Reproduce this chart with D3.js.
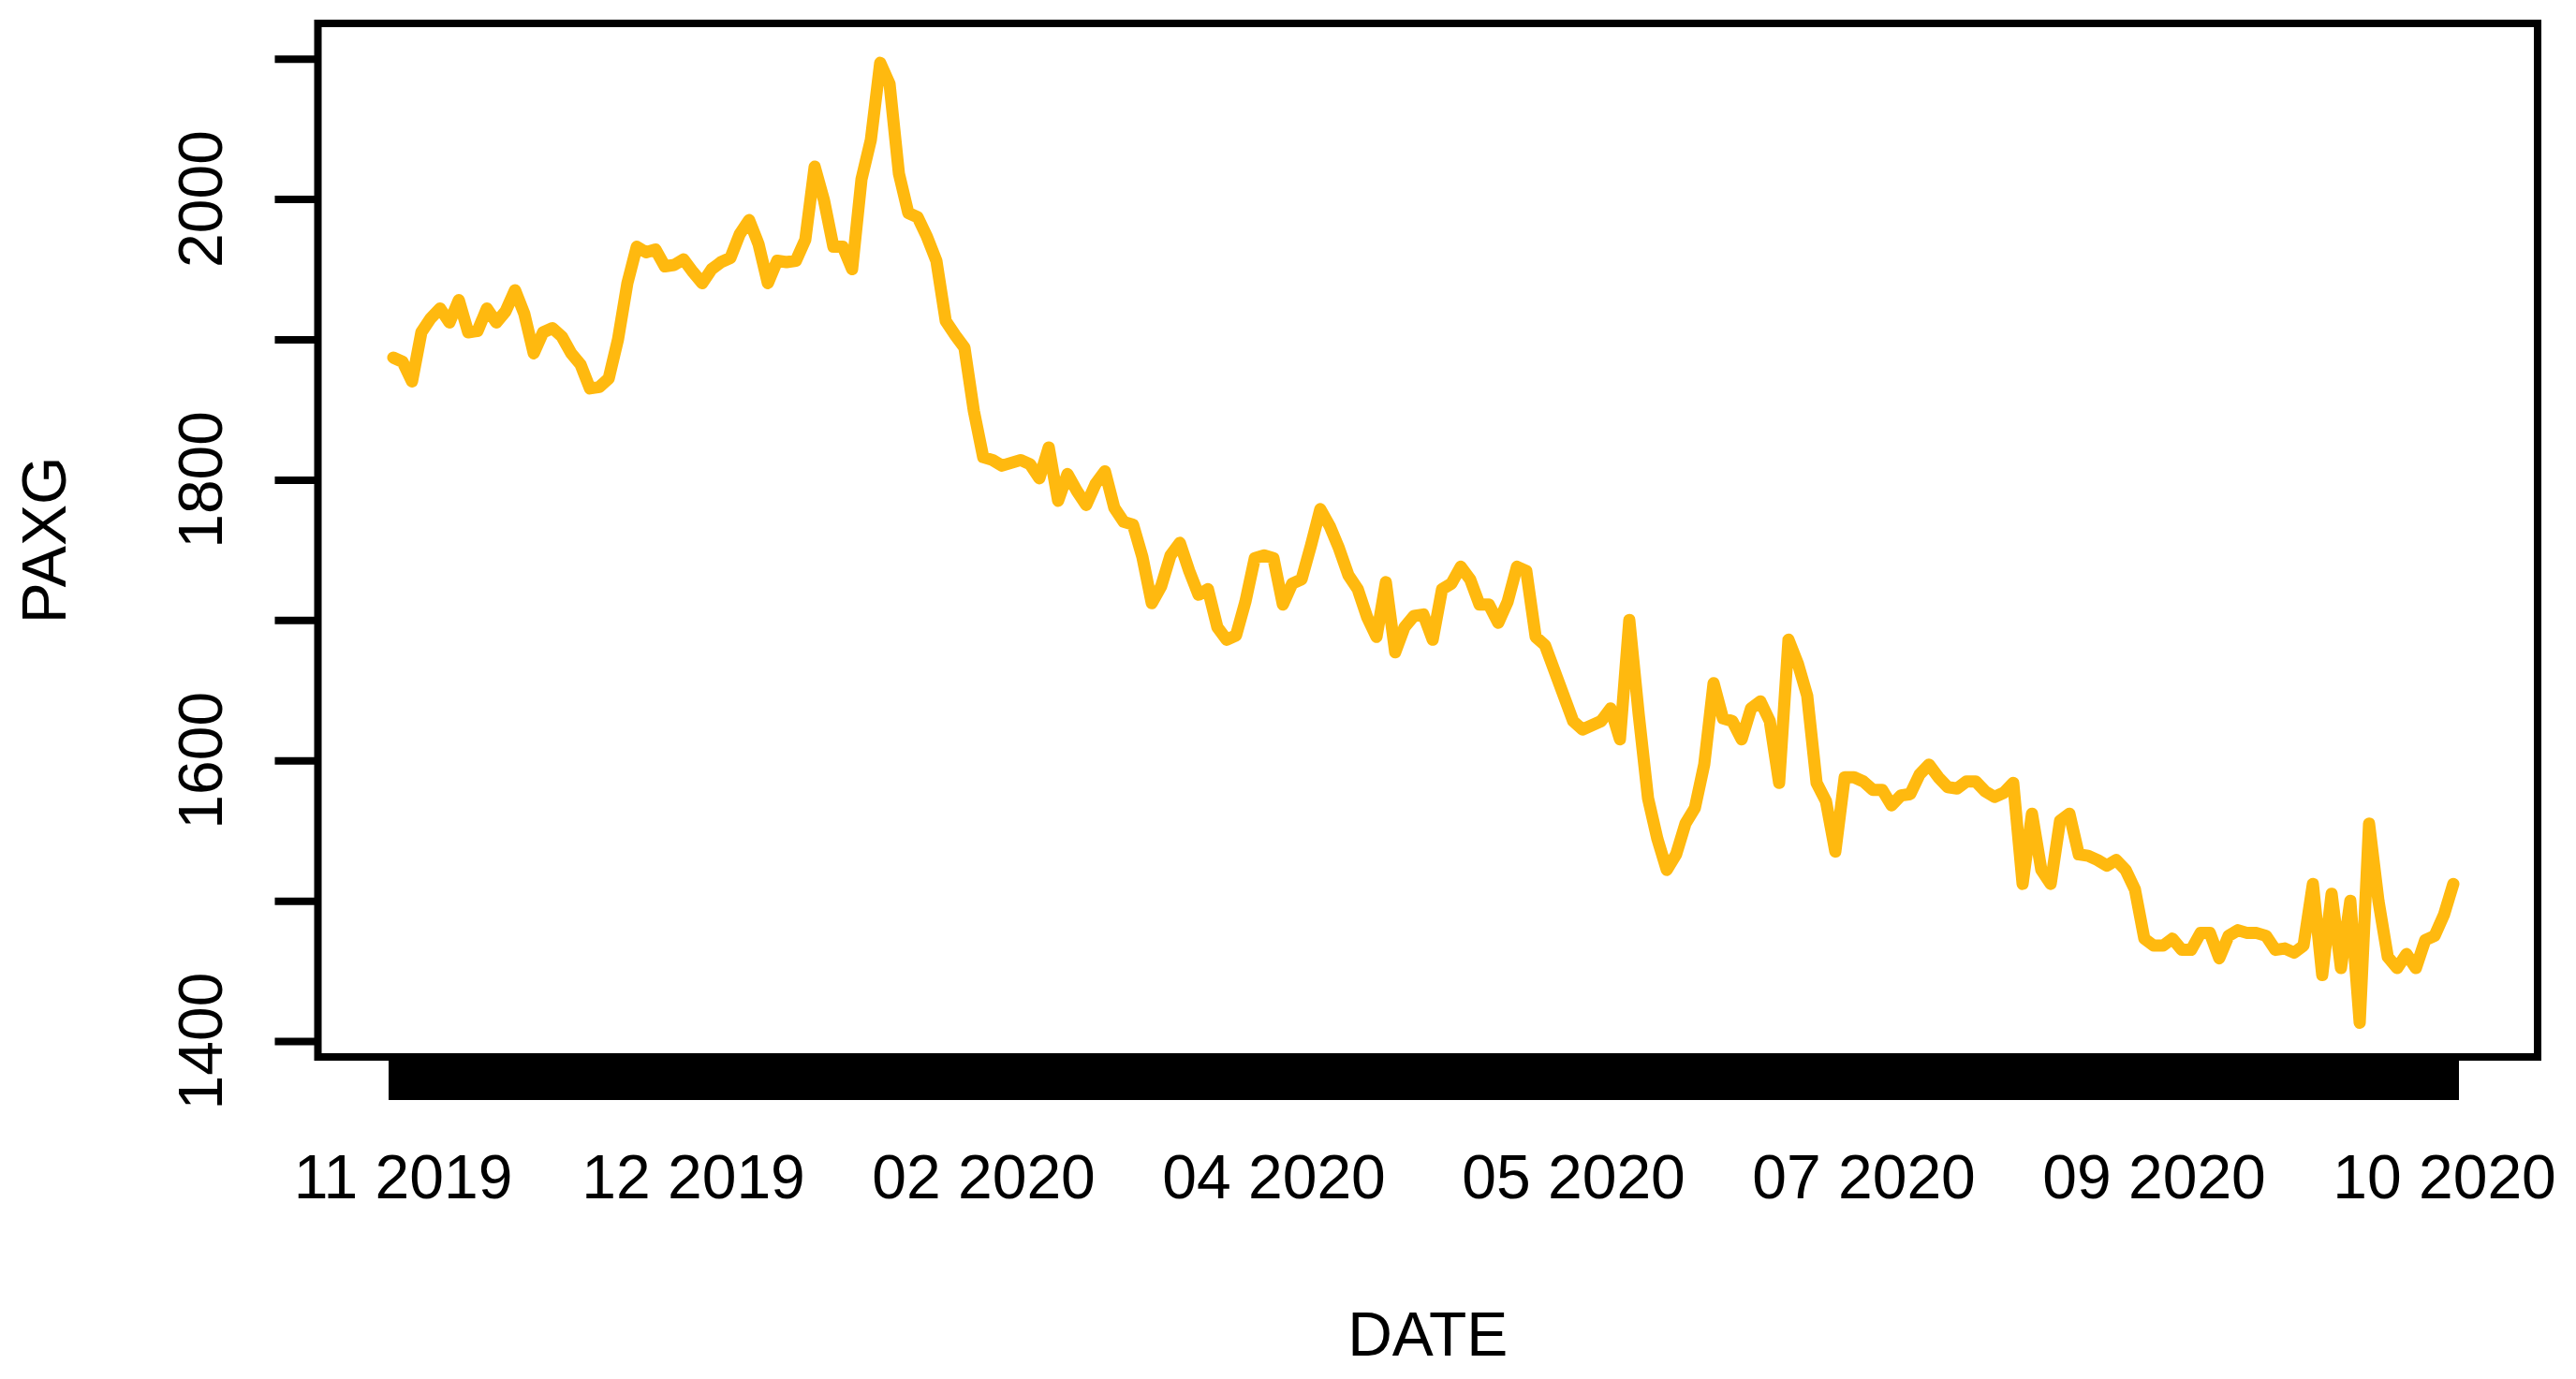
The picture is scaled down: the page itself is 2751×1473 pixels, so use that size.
<!DOCTYPE html>
<html>

<head>
    <meta charset="UTF-8">
    <title>PAXG</title>
    <script src="https://cdnjs.cloudflare.com/ajax/libs/d3/7.8.5/d3.min.js"></script>
    <style>
        body { margin: 0; background: #fff; }
        text { font-family: "Liberation Sans", Arial, Helvetica, sans-serif; }
    </style>
</head>

<body>

    <svg id="chart"></svg>

    <script>

        // PAXG series, one value per observation (index based x axis)
        var paxg = [
            1887, 1884, 1870, 1905, 1915, 1922, 1912, 1928, 1905, 1906,
            1922, 1912, 1920, 1935, 1918, 1890, 1905, 1908, 1902, 1890,
            1882, 1865, 1866, 1872, 1900, 1940, 1966, 1962, 1964, 1952,
            1953, 1957, 1948, 1940, 1950, 1955, 1958, 1975, 1985, 1968,
            1940, 1956, 1955, 1956, 1971, 2023, 1999, 1966, 1966, 1950,
            2014, 2042, 2097, 2082, 2018, 1990, 1987, 1973, 1956, 1913,
            1903, 1894, 1849, 1816, 1814, 1810, 1812, 1814, 1811, 1801,
            1823, 1785, 1804, 1792, 1782, 1797, 1806, 1780, 1770, 1768,
            1745, 1712, 1724, 1746, 1755, 1735, 1718, 1722, 1695, 1686,
            1689, 1713, 1744, 1746, 1744, 1711, 1726, 1729, 1753, 1779,
            1767, 1751, 1732, 1722, 1702, 1688, 1727, 1677, 1695, 1703,
            1704, 1686, 1722, 1726, 1738, 1729, 1711, 1711, 1698, 1713,
            1738, 1735, 1688, 1682, 1664, 1646, 1628, 1622, 1625, 1628,
            1637, 1615, 1700, 1633, 1573, 1544, 1522, 1533, 1555, 1566,
            1597, 1655, 1630, 1628, 1615, 1637, 1642, 1628, 1584, 1686,
            1669, 1646, 1584, 1571, 1535, 1588, 1588, 1585, 1579, 1579,
            1568, 1575, 1576, 1590, 1597, 1588, 1581, 1580, 1585, 1585,
            1578, 1574, 1577, 1584, 1512, 1562, 1522, 1512, 1557, 1562,
            1533, 1532, 1529, 1525, 1529, 1522, 1508, 1473, 1468, 1468,
            1473, 1465, 1465, 1477, 1477, 1459, 1475, 1479, 1477, 1477,
            1475, 1465, 1466, 1463, 1468, 1512, 1447, 1505, 1452, 1500,
            1413, 1555, 1500, 1460, 1452, 1462, 1452, 1472, 1475, 1490,
            1512
        ];

        // labelled positions on the x axis (observation index) and their text
        var xLabelIdx = [1, 32, 63, 94, 126, 157, 188, 219];
        var xLabels = ["11 2019", "12 2019", "02 2020", "04 2020", "05 2020", "07 2020", "09 2020", "10 2020"];

        var yTicks = [1400, 1500, 1600, 1700, 1800, 1900, 2000, 2100];
        var yLabels = [1400, 1600, 1800, 2000];

        var svgWidth = 2751,
            svgHeight = 1473;
        var box = { left: 339.5, right: 2710, top: 25, bottom: 1129 };
        var tickLen = 46;
        var fontSize = 66;

        var svg = d3.select("#chart")
            .attr("width", svgWidth)
            .attr("height", svgHeight);

        var n = paxg.length;
        var x = d3.scaleLinear()
            .domain([-8.05, (n - 1) + 9])
            .range([box.left, box.right]);

        var y = d3.scaleLinear()
            .domain([1388.7, 2125.1])
            .range([box.bottom, box.top]);

        // dense ticks, one per observation -> the black band under the plot
        var xDense = svg.append("g")
            .attr("class", "axis x dense")
            .attr("transform", "translate(0," + box.bottom + ")")
            .call(d3.axisBottom(x)
                .tickValues(d3.range(n))
                .tickSize(tickLen)
                .tickFormat(""));
        xDense.select(".domain").remove();
        xDense.selectAll(".tick line")
            .attr("stroke", "#000")
            .attr("stroke-width", 10.2)
            .attr("shape-rendering", "crispEdges");

        // labelled x ticks
        var xAxis = svg.append("g")
            .attr("class", "axis x labels")
            .attr("transform", "translate(0," + box.bottom + ")")
            .call(d3.axisBottom(x)
                .tickValues(xLabelIdx)
                .tickSize(tickLen)
                .tickFormat(function (d, i) { return xLabels[i]; }));
        xAxis.select(".domain").remove();
        xAxis.selectAll(".tick line").attr("stroke-width", 8);
        xAxis.selectAll(".tick text")
            .attr("y", 151)
            .attr("dy", null)
            .attr("fill", "#000")
            .style("font-size", fontSize + "px");

        // y axis, labels parallel to the axis like base R
        var yAxis = svg.append("g")
            .attr("class", "axis y")
            .attr("transform", "translate(" + box.left + ",0)")
            .call(d3.axisLeft(y)
                .tickValues(yTicks)
                .tickSize(tickLen)
                .tickFormat(""));
        yAxis.select(".domain").remove();
        yAxis.selectAll(".tick line")
            .attr("stroke", "#000")
            .attr("stroke-width", 8);

        svg.append("g")
            .attr("class", "y labels")
            .selectAll("text")
            .data(yLabels)
            .enter()
            .append("text")
            .attr("transform", function (d) { return "translate(237," + y(d) + ") rotate(-90)"; })
            .attr("text-anchor", "middle")
            .style("font-size", fontSize + "px")
            .text(function (d) { return d; });

        // series
        var line = d3.line()
            .x(function (d, i) { return x(i); })
            .y(function (d) { return y(d); });

        svg.append("path")
            .datum(paxg)
            .attr("fill", "none")
            .attr("stroke", "#FFB90F")
            .attr("stroke-width", 13)
            .attr("stroke-linejoin", "round")
            .attr("stroke-linecap", "round")
            .attr("d", line);

        // plot frame
        svg.append("rect")
            .attr("x", box.left)
            .attr("y", box.top)
            .attr("width", box.right - box.left)
            .attr("height", box.bottom - box.top)
            .attr("fill", "none")
            .attr("stroke", "#000")
            .attr("stroke-width", 8);

        // axis titles
        svg.append("text")
            .attr("x", (box.left + box.right) / 2)
            .attr("y", 1448)
            .attr("text-anchor", "middle")
            .style("font-size", fontSize + "px")
            .text("DATE");

        svg.append("text")
            .attr("transform", "translate(70," + (box.top + box.bottom) / 2 + ") rotate(-90)")
            .attr("text-anchor", "middle")
            .style("font-size", fontSize + "px")
            .text("PAXG");

    </script>

</body>

</html>
